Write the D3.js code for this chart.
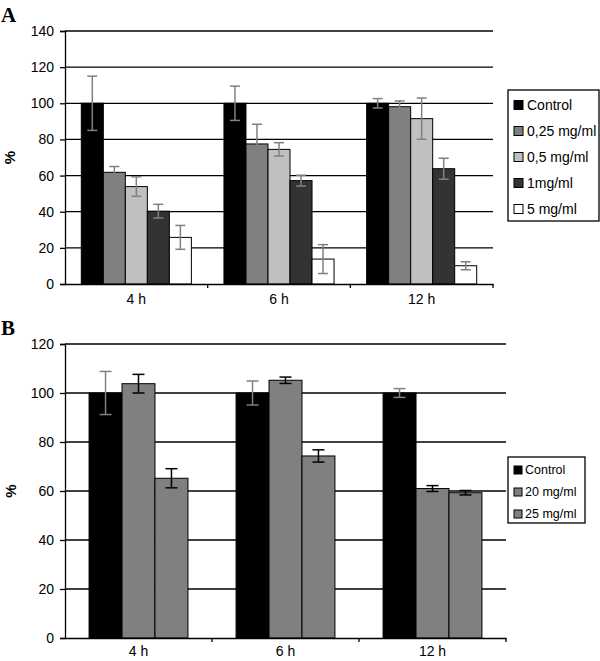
<!DOCTYPE html>
<html><head><meta charset="utf-8">
<script src="https://cdn.jsdelivr.net/npm/d3@7"></script>
<style>body{margin:0;background:#fff}svg{display:block}</style>
</head><body>
<svg id="c" width="600" height="661"></svg>
<script>
// ---- Data ----
const timesA = ["4 h", "6 h", "12 h"];
const seriesA = ["Control", "0,25 mg/ml", "0,5 mg/ml", "1mg/ml", "5 mg/ml"];
const colorsA = ["#000000", "#808080", "#c0c0c0", "#333333", "#ffffff"];
const controlA = [100, 100, 100];
const c025A = [61.8, 77.5, 98.1];
const c05A = [53.9, 74.5, 91.5];
const c1A = [40.3, 57.2, 63.8];
const c5A = [25.8, 13.8, 10.1];
const errControlA = [15, 9.5, 2.6];
const err025A = [3.2, 10.9, 3.2];
const err05A = [5.4, 3.7, 11.4];
const err1A = [3.8, 3.0, 5.8];
const err5A = [6.6, 8.0, 2.2];
const ticksA = [0, 20, 40, 60, 80, 100, 120, 140];

const timesB = ["4 h", "6 h", "12 h"];
const seriesB = ["Control", "20 mg/ml", "25 mg/ml"];
const colorsB = ["#000000", "#808080", "#808080"];
const controlB = [100, 100, 100];
const c20B = [103.8, 105.2, 61.0];
const c25B = [65.2, 74.3, 59.3];
const errControlB = [8.8, 4.9, 1.8];
const err20B = [3.8, 1.3, 1.2];
const err25B = [3.9, 2.5, 0.9];
const ticksB = [0, 20, 40, 60, 80, 100, 120];

const svg = d3.select("#c");
const FONT = "Liberation Sans, Arial, sans-serif";

function panel(cfg) {
  const g = svg.append("g");
  const x0 = d3.scaleBand().domain(cfg.times).range([cfg.left, cfg.right]).padding(0);
  const x1 = d3.scaleBand().domain(cfg.series).range([0, x0.bandwidth()]).paddingInner(0).paddingOuter(cfg.pad);
  const y = d3.scaleLinear().domain([0, cfg.max]).range([cfg.bottom, cfg.top]);

  // gridlines
  g.append("g").selectAll("line").data(cfg.ticks.filter(t => t > 0)).join("line")
    .attr("x1", cfg.left).attr("x2", cfg.right)
    .attr("y1", d => y(d)).attr("y2", d => y(d))
    .attr("stroke", "#000").attr("stroke-width", 1.3);

  // y axis
  const ya = g.append("g").attr("transform", `translate(${cfg.left},0)`)
    .call(d3.axisLeft(y).tickValues(cfg.ticks).tickSize(5).tickPadding(6));
  ya.selectAll("path,line").attr("stroke", "#000").attr("stroke-width", 1.3);
  ya.selectAll("text").attr("font-family", FONT).attr("font-size", 14).attr("fill", "#000");

  // bars
  const rows = [];
  cfg.series.forEach((s, si) => {
    cfg.times.forEach((t, ti) => {
      rows.push({ s, si, t, v: cfg.values[si][ti], e: cfg.errs[si][ti] });
    });
  });
  g.append("g").selectAll("rect").data(rows).join("rect")
    .attr("x", d => x0(d.t) + x1(d.s))
    .attr("y", d => y(d.v))
    .attr("width", x1.bandwidth())
    .attr("height", d => y(0) - y(d.v))
    .attr("fill", d => cfg.colors[d.si])
    .attr("stroke", "#000").attr("stroke-width", 1);

  // error bars
  const eg = g.append("g").selectAll("g").data(rows).join("g")
    .attr("stroke", d => cfg.errColor[d.si]).attr("stroke-width", 1.5);
  const cx = d => x0(d.t) + x1(d.s) + x1.bandwidth() / 2;
  eg.append("line").attr("x1", cx).attr("x2", cx)
    .attr("y1", d => y(d.v + d.e)).attr("y2", d => y(d.v - d.e));
  eg.append("line").attr("x1", d => cx(d) - cfg.cap).attr("x2", d => cx(d) + cfg.cap)
    .attr("y1", d => y(d.v + d.e)).attr("y2", d => y(d.v + d.e));
  eg.append("line").attr("x1", d => cx(d) - cfg.cap).attr("x2", d => cx(d) + cfg.cap)
    .attr("y1", d => y(d.v - d.e)).attr("y2", d => y(d.v - d.e));

  // x axis
  const xa = g.append("g").attr("transform", `translate(0,${cfg.bottom})`)
    .call(d3.axisBottom(x0).tickSize(0).tickPadding(cfg.labelPad).tickSizeOuter(0));
  xa.select("path").attr("stroke", "#000").attr("stroke-width", 1.3);
  xa.selectAll("text").attr("font-family", FONT).attr("font-size", 14).attr("fill", "#000");
  g.append("g").selectAll("line").data(cfg.times).join("line")
    .attr("x1", d => x0(d) + x0.bandwidth()).attr("x2", d => x0(d) + x0.bandwidth())
    .attr("y1", cfg.bottom).attr("y2", cfg.bottom + 4)
    .attr("stroke", "#000").attr("stroke-width", 1.3);

  // y title
  g.append("text").attr("transform", `translate(${cfg.pctX},${(cfg.top + cfg.bottom) / 2}) rotate(-90)`)
    .attr("text-anchor", "middle").attr("dominant-baseline", "central")
    .attr("font-family", FONT).attr("font-weight", "bold").attr("font-size", 15).text("%");

  // panel letter
  g.append("text").attr("x", 1).attr("y", cfg.letterY)
    .attr("font-family", "Liberation Serif, Times New Roman, serif").attr("font-weight", "bold")
    .attr("font-size", 21).text(cfg.letter);

  // legend
  const L = cfg.legend;
  g.append("rect").attr("x", L.x).attr("y", L.y).attr("width", L.w).attr("height", L.h)
    .attr("fill", "#fff").attr("stroke", "#000").attr("stroke-width", 1.3);
  const li = g.append("g").selectAll("g").data(cfg.series).join("g")
    .attr("transform", (d, i) => `translate(${L.x + 6},${L.y0 + i * L.step})`);
  li.append("rect").attr("x", 0).attr("y", -L.sq / 2).attr("width", L.sq).attr("height", L.sq)
    .attr("fill", (d, i) => cfg.colors[i]).attr("stroke", "#000").attr("stroke-width", 1);
  li.append("text").attr("x", L.tx).attr("y", 0).attr("dominant-baseline", "central")
    .attr("font-family", FONT).attr("font-size", L.fs).text(d => d);
}

panel({
  letter: "A", letterY: 22, times: timesA, series: seriesA, colors: colorsA,
  values: [controlA, c025A, c05A, c1A, c5A],
  errs: [errControlA, err025A, err05A, err1A, err5A],
  errColor: ["#808080", "#808080", "#808080", "#808080", "#808080"],
  ticks: ticksA, max: 140, left: 65, right: 493, top: 31, bottom: 284, pad: 0.74, cap: 5,
  labelPad: 10, pctX: 9,
  legend: { x: 508, y: 90, w: 91, h: 131, y0: 105, step: 26, sq: 9, tx: 13, fs: 14 }
});

panel({
  letter: "B", letterY: 335, times: timesB, series: seriesB, colors: colorsB,
  values: [controlB, c20B, c25B],
  errs: [errControlB, err20B, err25B],
  errColor: ["#808080", "#000000", "#000000"],
  ticks: ticksB, max: 120, left: 65, right: 506, top: 344, bottom: 638, pad: 0.73, cap: 6,
  labelPad: 8, pctX: 10,
  legend: { x: 508, y: 457, w: 77, h: 66, y0: 470, step: 22, sq: 8, tx: 11, fs: 12.5 }
});
</script>
</body></html>
